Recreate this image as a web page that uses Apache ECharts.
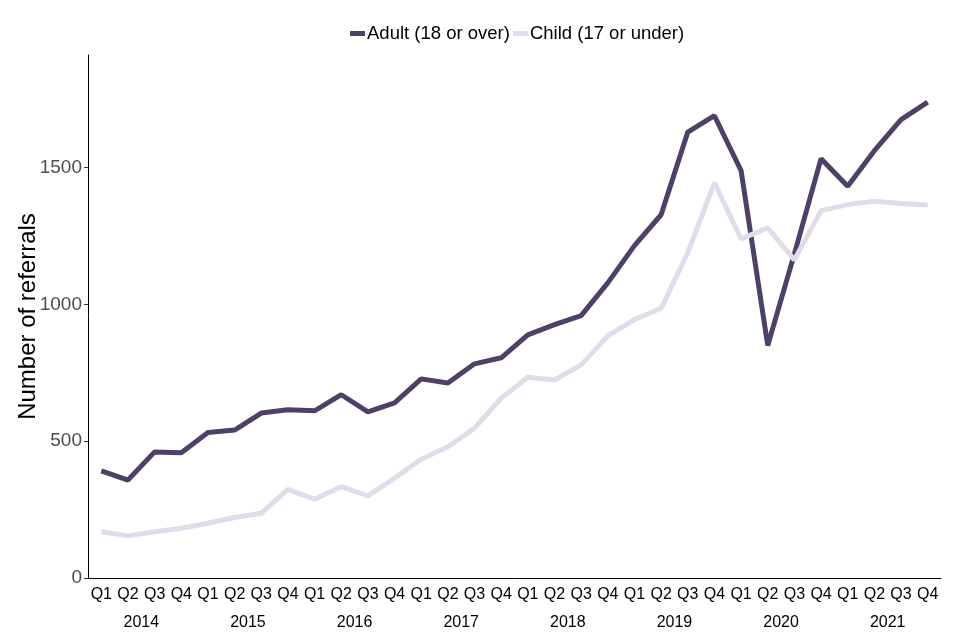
<!DOCTYPE html>
<html>
<head>
<meta charset="utf-8">
<script src="https://cdn.jsdelivr.net/npm/echarts@6/dist/echarts.min.js"></script>
<style>html,body{margin:0;padding:0;background:#fff}#c{width:960px;height:640px}</style>
</head>
<body>
<div id="c"></div>
<script>
const quarters = ['Q1','Q2','Q3','Q4'];
const years = ['2014','2015','2016','2017','2018','2019','2020','2021'];
const adult = [392, 358, 461, 458, 532, 541, 603, 615, 611, 670, 607, 640,
               728, 713, 783, 805, 889, 926, 959, 1079, 1215, 1328, 1630, 1690,
               1489, 850, 1185, 1533, 1432, 1562, 1676, 1740];
const child = [169, 154, 169, 182, 200, 221, 237, 324, 288, 334, 300, 365,
               434, 480, 548, 657, 734, 724, 779, 885, 945, 986, 1189, 1445,
               1240, 1280, 1163, 1343, 1365, 1377, 1369, 1364];
const yTicks = [0, 500, 1000, 1500];

const cats = [];
years.forEach(y => quarters.forEach(q => cats.push(q + ' ' + y)));

const chart = echarts.init(document.getElementById('c'));
const font = 'Liberation Sans, Arial, sans-serif';
chart.setOption({
  animation: false,
  textStyle: { fontFamily: font },
  legend: {
    top: 19,
    left: 345,
    itemWidth: 15,
    itemHeight: 5,
    itemGap: 3,
    icon: 'rect',
    textStyle: { fontSize: 18.5, color: '#000', fontFamily: font, padding: [0, 0, 0, -3] },
    data: ['Adult (18 or over)', 'Child (17 or under)']
  },
  grid: { left: 88, right: 19, top: 55, bottom: 62, outerBoundsMode: 'none', containLabel: false },
  xAxis: [
    {
      type: 'category',
      data: cats,
      boundaryGap: true,
      axisLine: { lineStyle: { color: '#000', width: 1 } },
      axisTick: { alignWithLabel: true, length: 4, lineStyle: { color: '#333' } },
      axisLabel: { formatter: v => v.split(' ')[0], color: '#000', fontSize: 16, margin: 9, interval: 0 }
    },
    {
      type: 'category',
      data: years,
      position: 'bottom',
      offset: 28,
      boundaryGap: true,
      axisLine: { show: false },
      axisTick: { show: false },
      axisLabel: { color: '#000', fontSize: 16, margin: 9, interval: 0 }
    }
  ],
  yAxis: {
    type: 'value',
    min: 0,
    max: 1912,
    interval: 500,
    name: 'Number of referrals',
    nameLocation: 'middle',
    nameGap: 48,
    nameMoveOverlap: false,
    nameTextStyle: { fontSize: 24, color: '#000', fontFamily: font },
    splitLine: { show: false },
    axisLine: { show: true, lineStyle: { color: '#000', width: 1 } },
    axisTick: { show: true, length: 4, lineStyle: { color: '#333' } },
    axisLabel: {
      color: '#4d4d4d', fontSize: 19, margin: 6, showMaxLabel: false,
      formatter: v => (yTicks.indexOf(v) >= 0 ? String(v) : '')
    }
  },
  series: [
    {
      name: 'Adult (18 or over)', type: 'line', data: adult,
      showSymbol: false, symbol: 'none',
      lineStyle: { color: '#4f4068', width: 5 }, itemStyle: { color: '#4f4068' }
    },
    {
      name: 'Child (17 or under)', type: 'line', data: child,
      showSymbol: false, symbol: 'none',
      lineStyle: { color: '#e1dcea', width: 5 }, itemStyle: { color: '#e1dcea' }
    }
  ]
});
</script>
</body>
</html>
